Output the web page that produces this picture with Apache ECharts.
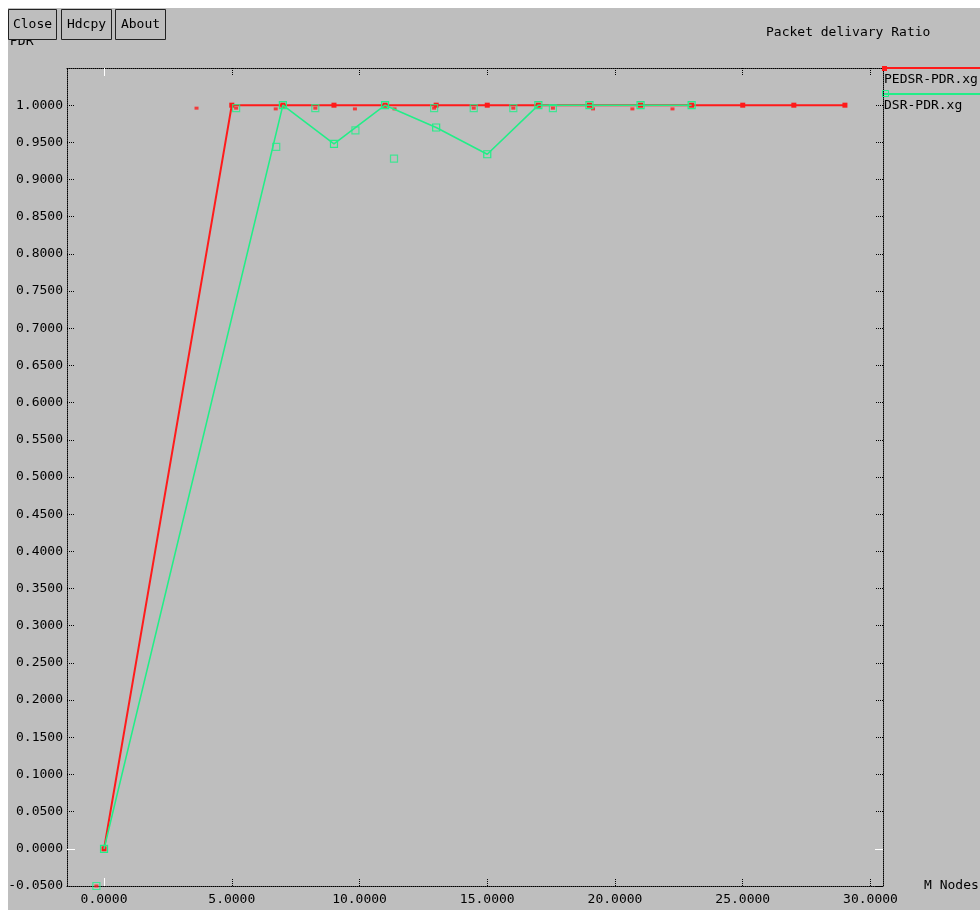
<!DOCTYPE html>
<html><head><meta charset="utf-8">
<script src="https://cdn.jsdelivr.net/npm/echarts@6/dist/echarts.min.js"></script>
<style>html,body{margin:0;padding:0;background:#fff}#c{width:980px;height:910px}</style>
</head><body><div id="c"></div>
<script>
const FONT = '"DejaVu Sans Mono", "Liberation Mono", monospace';
const RED = '#ff1a1a';
const GREEN = '#22ee88';

// axis ticks
const xTicks = [0, 5, 10, 15, 20, 25, 30];
const yTicks = [-0.05, 0, 0.05, 0.1, 0.15, 0.2, 0.25, 0.3, 0.35, 0.4, 0.45, 0.5, 0.55, 0.6, 0.65, 0.7, 0.75, 0.8, 0.85, 0.9, 0.95, 1.0];
const X_MIN = -1.45, X_MAX = 30.49;
const Y_MIN = -0.05, Y_MAX = 1.05;

// PEDSR-PDR.xg
const pedsrX = [0, 5, 7, 9, 11, 13, 15, 17, 19, 21, 23, 25, 27, 29];
const pedsrY = [0, 1.0, 1.0, 1.0, 1.0, 1.0, 1.0, 1.0, 1.0, 1.0, 1.0, 1.0, 1.0, 1.0];
// isolated PEDSR points (markers only)
const pedsrPtX = [-0.3, 3.62, 5.17, 6.72, 8.27, 9.82, 11.37, 12.92, 14.47, 16.02, 17.57, 19.14, 20.68, 22.25];
const pedsrPtY = [-0.05, 0.996, 0.996, 0.995, 0.996, 0.995, 0.995, 0.996, 0.996, 0.996, 0.996, 0.995, 0.995, 0.995];

// DSR-PDR.xg
const dsrX = [0, 7, 9, 11, 13, 15, 17, 19, 21, 23];
const dsrY = [0, 1.0, 0.948, 1.0, 0.970, 0.934, 1.0, 1.0, 1.0, 1.0];
// isolated DSR points (markers only)
const dsrPtX = [-0.3, 5.17, 6.74, 8.27, 9.84, 11.35, 12.92, 14.47, 16.02, 17.57];
const dsrPtY = [-0.05, 0.996, 0.944, 0.996, 0.966, 0.928, 0.996, 0.996, 0.996, 0.996];

const zip = (a, b) => a.map((v, i) => [v, b[i]]);
const dotted = { color: '#000', width: 1, type: [1, 1] };
const lbl = { fontFamily: FONT, fontSize: 13, color: '#000' };

const chart = echarts.init(document.getElementById('c'), null, { renderer: 'canvas' });

function frameX(pos, main) {
  return {
    type: 'value', position: pos, min: X_MIN, max: X_MAX,
    axisLine: { show: true, onZero: false, lineStyle: dotted },
    axisTick: { show: true, inside: true, length: 7, customValues: xTicks, lineStyle: dotted },
    axisLabel: main ? { show: true, customValues: xTicks, formatter: v => v.toFixed(4), margin: 7, ...lbl } : { show: false },
    splitLine: { show: false }
  };
}
function zeroX(pos) {
  return {
    type: 'value', position: pos, min: X_MIN, max: X_MAX,
    axisLine: { show: false, onZero: false },
    axisTick: { show: true, inside: true, length: 8, customValues: [0], lineStyle: { color: '#fff', width: 1 } },
    axisLabel: { show: false }, splitLine: { show: false }
  };
}
function frameY(pos, main) {
  return {
    type: 'value', position: pos, min: Y_MIN, max: Y_MAX,
    axisLine: { show: true, onZero: false, lineStyle: dotted },
    axisTick: { show: true, inside: true, length: 7, customValues: yTicks, lineStyle: dotted },
    axisLabel: main ? { show: true, customValues: yTicks, formatter: v => v.toFixed(4), margin: 4, ...lbl } : { show: false },
    splitLine: { show: false }
  };
}
function zeroY(pos) {
  return {
    type: 'value', position: pos, min: Y_MIN, max: Y_MAX,
    axisLine: { show: false, onZero: false },
    axisTick: { show: true, inside: true, length: 8, customValues: [0], lineStyle: { color: '#fff', width: 1 } },
    axisLabel: { show: false }, splitLine: { show: false }
  };
}

const xMain = frameX('bottom', true);
xMain.name = 'M Nodes';
xMain.nameLocation = 'end';
xMain.nameGap = 41;
xMain.nameTextStyle = { ...lbl, align: 'left', verticalAlign: 'middle' };

const option = {
  animation: false,
  backgroundColor: '#bebebe',
  title: {
    text: 'Packet delivary Ratio', left: 766, top: 26, padding: 0,
    textStyle: { fontFamily: FONT, fontSize: 13, fontWeight: 'normal', color: '#000' }
  },
  grid: { left: 67, top: 68, right: 97, bottom: 24, containLabel: false, outerBoundsMode: 'none', show: false },
  xAxis: [xMain, frameX('top', false), zeroX('bottom'), zeroX('top')],
  yAxis: [frameY('left', true), frameY('right', false), zeroY('left'), zeroY('right')],
  series: [
    {
      type: 'line', name: 'PEDSR-PDR.xg', data: zip(pedsrX, pedsrY),
      xAxisIndex: 0, yAxisIndex: 0, symbol: 'rect', symbolSize: 5, showSymbol: true,
      lineStyle: { color: RED, width: 2 }, itemStyle: { color: RED }, z: 2
    },
    {
      type: 'scatter', name: 'PEDSR-pts', data: zip(pedsrPtX, pedsrPtY),
      xAxisIndex: 0, yAxisIndex: 0, symbol: 'rect', symbolSize: [4, 3],
      itemStyle: { color: RED }, z: 2
    },
    {
      type: 'line', name: 'DSR-PDR.xg', data: zip(dsrX, dsrY),
      xAxisIndex: 0, yAxisIndex: 0, symbol: 'rect', symbolSize: 7, showSymbol: true,
      lineStyle: { color: GREEN, width: 1.6 },
      itemStyle: { color: 'rgba(0,0,0,0)', borderColor: GREEN, borderWidth: 1.2 }, z: 3
    },
    {
      type: 'scatter', name: 'DSR-pts', data: zip(dsrPtX, dsrPtY),
      xAxisIndex: 0, yAxisIndex: 0, symbol: 'rect', symbolSize: 7,
      itemStyle: { color: 'rgba(0,0,0,0)', borderColor: GREEN, borderWidth: 1.2 }, z: 3
    }
  ],
  graphic: [
    { type: 'rect', shape: { x: 0, y: 0, width: 980, height: 8 }, style: { fill: '#fff' }, z: 100 },
    { type: 'rect', shape: { x: 0, y: 0, width: 8, height: 910 }, style: { fill: '#fff' }, z: 100 },
    { type: 'text', x: 10, y: 42, style: { text: 'PDR', font: '13px ' + FONT, fill: '#000', verticalAlign: 'middle' }, z: 50 },
    { type: 'rect', shape: { x: 8.5, y: 9.5, width: 48, height: 30 }, style: { fill: '#bebebe', stroke: '#222', lineWidth: 1 }, z: 60 },
    { type: 'text', x: 32.5, y: 25, style: { text: 'Close', font: '13px ' + FONT, fill: '#000', align: 'center', verticalAlign: 'middle' }, z: 61 },
    { type: 'rect', shape: { x: 61.5, y: 9.5, width: 50, height: 30 }, style: { fill: '#bebebe', stroke: '#222', lineWidth: 1 }, z: 60 },
    { type: 'text', x: 86.5, y: 25, style: { text: 'Hdcpy', font: '13px ' + FONT, fill: '#000', align: 'center', verticalAlign: 'middle' }, z: 61 },
    { type: 'rect', shape: { x: 115.5, y: 9.5, width: 50, height: 30 }, style: { fill: '#bebebe', stroke: '#222', lineWidth: 1 }, z: 60 },
    { type: 'text', x: 140.5, y: 25, style: { text: 'About', font: '13px ' + FONT, fill: '#000', align: 'center', verticalAlign: 'middle' }, z: 61 },
    { type: 'line', shape: { x1: 884, y1: 68, x2: 980, y2: 68 }, style: { stroke: RED, lineWidth: 2 }, z: 40 },
    { type: 'rect', shape: { x: 882, y: 66, width: 5, height: 5 }, style: { fill: RED }, z: 41 },
    { type: 'text', x: 884, y: 80, style: { text: 'PEDSR-PDR.xg', font: '13px ' + FONT, fill: '#000', verticalAlign: 'middle' }, z: 40 },
    { type: 'line', shape: { x1: 884, y1: 94, x2: 980, y2: 94 }, style: { stroke: GREEN, lineWidth: 2 }, z: 40 },
    { type: 'rect', shape: { x: 882.5, y: 90.5, width: 6, height: 6 }, style: { fill: 'none', stroke: GREEN, lineWidth: 1 }, z: 41 },
    { type: 'text', x: 884, y: 106, style: { text: 'DSR-PDR.xg', font: '13px ' + FONT, fill: '#000', verticalAlign: 'middle' }, z: 40 }
  ]
};
chart.setOption(option);
</script>
</body></html>
